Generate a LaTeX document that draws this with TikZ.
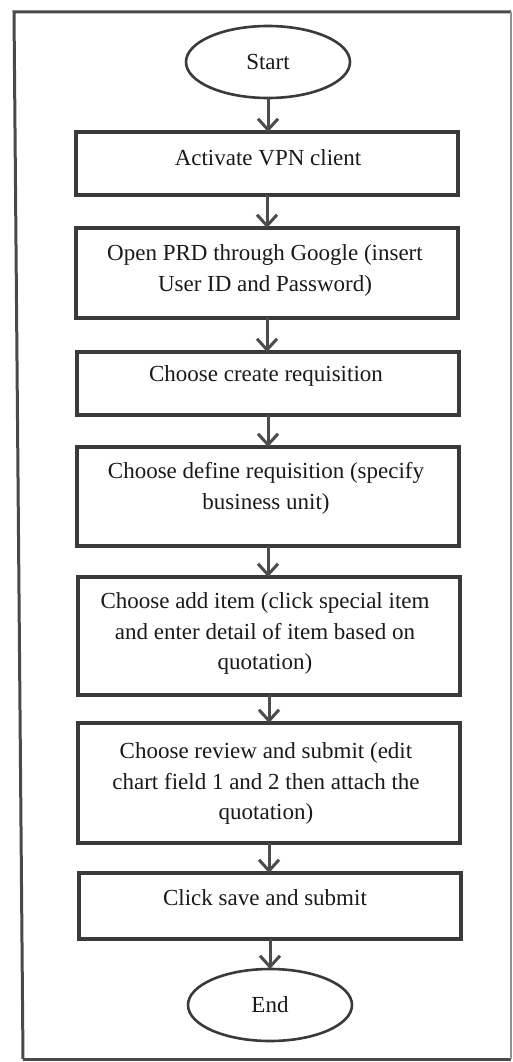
\documentclass[tikz,border=0pt]{standalone}
\usepackage{fontspec}
\setmainfont{Liberation Serif}
\usetikzlibrary{arrows.meta,shapes.geometric}
\definecolor{framegray}{HTML}{4A4A4A}
\definecolor{boxgray}{HTML}{3A3A3A}
\definecolor{arrowgray}{HTML}{4C4C4C}
\definecolor{inkgray}{HTML}{1A1A1A}
\begin{document}
\begin{tikzpicture}[x=1pt,y=-1pt,
  stepbox/.style={draw=boxgray, line width=3.6pt, minimum width=382pt,
    inner sep=0pt, outer sep=0pt, anchor=north},
  steptext/.style={anchor=north, inner sep=0pt, align=center, text=inkgray,
    font=\fontsize{23}{30.5}\selectfont},
  term/.style={draw=boxgray, line width=2.6pt, ellipse, minimum width=164pt,
    minimum height=72pt, inner sep=0pt, outer sep=0pt, text=inkgray,
    font=\fontsize{23}{28}\selectfont},
  flow/.style={draw=arrowgray, line width=3pt,
    -{Straight Barb[length=11pt,width=20pt]}}]
  % page and outer frame
  \useasboundingbox (0,0) rectangle (512,1062);
  \fill[white] (0,0) rectangle (512,1062);
  \draw[framegray, line width=3pt, line join=miter] (23,1059) -- (14,12) -- (511,12);
  \draw[framegray, line width=3pt] (23,1059) -- (511,1059);
  \draw[framegray!60, line width=1.2pt] (511,12) -- (511,1059);

  % terminals
  \node[term] (start) at (268,62) {Start};
  \node[term] (end) at (270,1005) {End};

  % process boxes (outline) and their texts, set near the top of each box
  \node[stepbox, minimum height=63pt]  (b1) at (267,132) {};
  \node[stepbox, minimum height=90pt]  (b2) at (267,228) {};
  \node[stepbox, minimum height=63pt]  (b3) at (268,352) {};
  \node[stepbox, minimum height=99pt]  (b4) at (268,447) {};
  \node[stepbox, minimum height=118pt] (b5) at (269,577) {};
  \node[stepbox, minimum height=120pt] (b6) at (269,723) {};
  \node[stepbox, minimum height=66pt]  (b7) at (270,873) {};

  \node[steptext] (t1) at (268,144) {\strut Activate VPN client};
  \node[steptext] (t2) at (265,239) {\strut Open PRD through Google (insert\\User ID and Password)};
  \node[steptext] (t3) at (266,360) {\strut Choose create requisition};
  \node[steptext] (t4) at (266,457) {\strut Choose define requisition (specify\\business unit)};
  \node[steptext] (t5) at (265,587) {\strut Choose add item (click special item\\and enter detail of item based on\\quotation)};
  \node[steptext] (t6) at (266,737) {\strut Choose review and submit (edit\\chart field 1 and 2 then attach the\\quotation)};
  \node[steptext] (t7) at (265,884) {\strut Click save and submit};

  % connectors
  \draw[flow] (start.south) -- (start.south |- b1.north);
  \draw[flow] (b1.south) -- (b1.south |- b2.north);
  \draw[flow] (b2.south) -- (b2.south |- b3.north);
  \draw[flow] (b3.south) -- (b3.south |- b4.north);
  \draw[flow] (b4.south) -- (b4.south |- b5.north);
  \draw[flow] (b5.south) -- (b5.south |- b6.north);
  \draw[flow] (b6.south) -- (b6.south |- b7.north);
  \draw[flow] (b7.south) -- (b7.south |- end.north);
\end{tikzpicture}
\end{document}
